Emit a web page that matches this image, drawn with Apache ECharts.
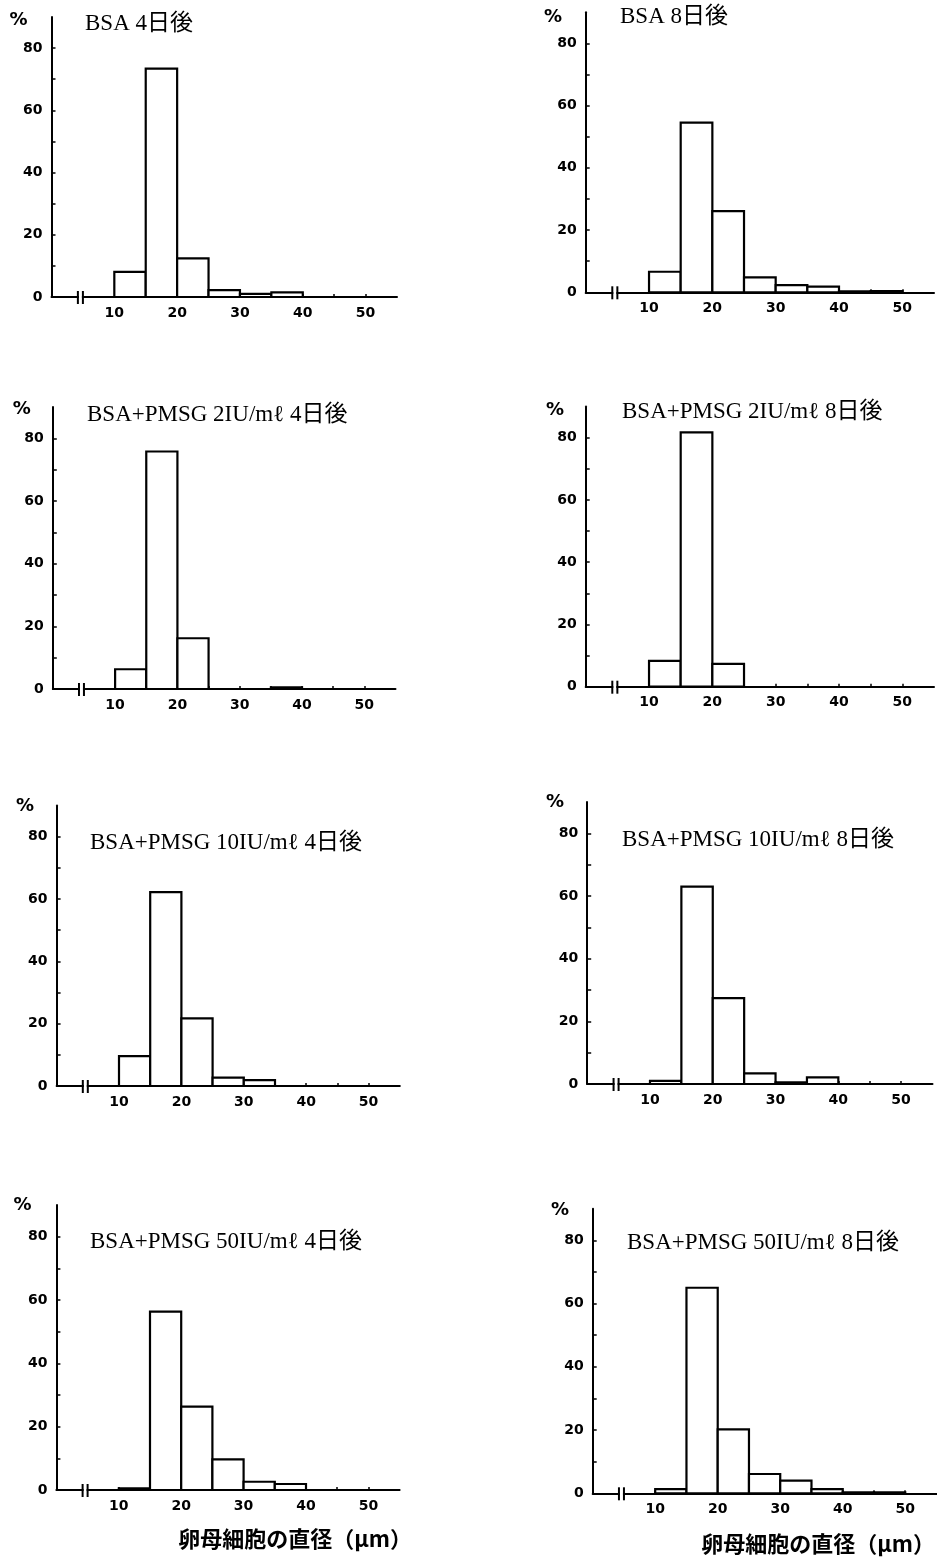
<!DOCTYPE html>
<html>
<head>
<meta charset="utf-8">
<script src="https://cdn.jsdelivr.net/npm/echarts@6/dist/echarts.min.js"></script>
<style>
html,body{margin:0;padding:0;background:#fff;}
#chart{width:937px;height:1559px;}
</style>
</head>
<body>
<div id="chart"></div>
<script>
// ---- data ----
const binStarts = [10, 15, 20, 25, 30, 35, 40, 45];
const binWidth = 5;
const xTickLabels = [10, 20, 30, 40, 50];
const yTickLabels = [0, 20, 40, 60, 80];
const panelTitles = [
  'BSA 4日後', 'BSA 8日後',
  'BSA+PMSG 2IU/mℓ 4日後', 'BSA+PMSG 2IU/mℓ 8日後',
  'BSA+PMSG 10IU/mℓ 4日後', 'BSA+PMSG 10IU/mℓ 8日後',
  'BSA+PMSG 50IU/mℓ 4日後', 'BSA+PMSG 50IU/mℓ 8日後'
];
const bsa4 = [8.1, 73.4, 12.4, 2.2, 1.0, 1.5, 0, 0];
const bsa8 = [6.6, 54.5, 26.1, 4.8, 2.3, 1.8, 0.3, 0.4];
const pmsg2_4 = [6.3, 75.8, 16.2, 0, 0, 0.5, 0, 0];
const pmsg2_8 = [8.3, 81.7, 7.3, 0, 0, 0, 0, 0];
const pmsg10_4 = [9.6, 62.2, 21.7, 2.7, 1.9, 0, 0, 0];
const pmsg10_8 = [1.0, 63.0, 27.4, 3.4, 0.5, 2.1, 0, 0];
const pmsg50_4 = [0.5, 56.3, 26.3, 9.7, 2.6, 1.9, 0, 0];
const pmsg50_8 = [1.3, 65.0, 20.2, 6.1, 4.0, 1.3, 0.3, 0.3];
const yUnit = '%';
const xAxisTitle = '卵母細胞の直径（μm）';
const breakRange = [4.2, 5.0];

const panelValues = [bsa4, bsa8, pmsg2_4, pmsg2_8, pmsg10_4, pmsg10_8, pmsg50_4, pmsg50_8];

// ---- layout (pixel geometry of each panel) ----
const frames = [
  {x0: 51.5, x55: 397,   y90: 16.9,  y0: 297,    tx: 85,  ty: 24,   px: 18.5, py: 20.5},
  {x0: 585.7, x55: 934,  y90: 12.2,  y0: 292.3,  tx: 620, ty: 17,   px: 553,  py: 17.5},
  {x0: 52.8, x55: 395.5, y90: 407,   y0: 689,    tx: 87,  ty: 415,  px: 21.7, py: 409},
  {x0: 585.7, x55: 934,  y90: 406.5, y0: 686.7,  tx: 622, ty: 412,  px: 555,  py: 410},
  {x0: 56.6, x55: 399.8, y90: 805.5, y0: 1086,   tx: 90,  ty: 843,  px: 25,   py: 806},
  {x0: 587.2, x55: 932.5,y90: 802,   y0: 1084,   tx: 622, ty: 840,  px: 555,  py: 802.5},
  {x0: 56.4, x55: 399.6, y90: 1205,  y0: 1490,   tx: 90,  ty: 1242, px: 22.5, py: 1205},
  {x0: 592.7, x55: 936.5,y90: 1208.7,y0: 1493.3, tx: 627, ty: 1243, px: 560,  py: 1210}
];
const xNamePos = [null, null, null, null, null, null, {x: 412, y: 1539}, {x: 935, y: 1544}];

const labelFont = {fontFamily: 'DejaVu Sans', fontWeight: 'bold', fontSize: 14, color: '#000'};

const grids = [], xAxes = [], yAxes = [], series = [], graphics = [];

frames.forEach((f, i) => {
  grids.push({left: f.x0, top: f.y90, width: f.x55 - f.x0, height: f.y0 - f.y90, containLabel: false});
  xAxes.push({
    type: 'value', gridIndex: i, min: 0, max: 55, interval: 5,
    axisLine: {show: true, lineStyle: {color: '#000', width: 2}},
    axisTick: {show: true, inside: true, length: 3, lineStyle: {color: '#000', width: 1.5},
               customValues: [10, 15, 20, 25, 30, 35, 40, 45, 50]},
    axisLabel: Object.assign({margin: 9, customValues: xTickLabels,
      formatter: v => (xTickLabels.indexOf(v) >= 0 ? String(v) : '')}, labelFont),
    splitLine: {show: false}
  });
  yAxes.push({
    type: 'value', gridIndex: i, min: 0, max: 90, interval: 10,
    axisLine: {show: true, lineStyle: {color: '#000', width: 2}},
    axisTick: {show: true, inside: true, length: 4, lineStyle: {color: '#000', width: 1.5},
               customValues: [10, 20, 30, 40, 50, 60, 70, 80]},
    axisLabel: Object.assign({margin: 9, customValues: yTickLabels,
      formatter: v => (yTickLabels.indexOf(v) >= 0 ? String(v) : '')}, labelFont),
    splitLine: {show: false}
  });
  series.push({
    type: 'custom', xAxisIndex: i, yAxisIndex: i, clip: false, z: 3,
    data: binStarts.map((s, k) => [s, s + binWidth, panelValues[i][k]]),
    encode: {x: [0, 1], y: 2},
    renderItem: function (params, api) {
      const v = api.value(2);
      if (!v) return null;
      const a = api.coord([api.value(0), 0]);
      const b = api.coord([api.value(1), v]);
      return {
        type: 'rect',
        shape: {x: a[0], y: b[1], width: b[0] - a[0], height: a[1] - b[1]},
        style: {fill: '#fff', stroke: '#000', lineWidth: 2.2}
      };
    }
  });
  series.push({
    type: 'custom', xAxisIndex: i, yAxisIndex: i, clip: false, z: 4,
    data: [[breakRange[0], breakRange[1], 0]],
    encode: {x: [0, 1], y: 2},
    renderItem: function (params, api) {
      const a = api.coord([api.value(0), 0]);
      const b = api.coord([api.value(1), 0]);
      return {
        type: 'group',
        children: [
          {type: 'rect', shape: {x: a[0] + 1, y: a[1] - 3, width: b[0] - a[0] - 2, height: 6}, style: {fill: '#fff'}},
          {type: 'line', shape: {x1: a[0], y1: a[1] - 6, x2: a[0], y2: a[1] + 7}, style: {stroke: '#000', lineWidth: 2}},
          {type: 'line', shape: {x1: b[0], y1: b[1] - 6, x2: b[0], y2: b[1] + 7}, style: {stroke: '#000', lineWidth: 2}}
        ]
      };
    }
  });
  graphics.push({
    type: 'text', x: f.tx, y: f.ty,
    style: {text: panelTitles[i], font: '23px "Liberation Serif", "Noto Sans CJK JP"',
            fill: '#000', textAlign: 'left', textVerticalAlign: 'middle'}
  });
  graphics.push({
    type: 'text', x: f.px, y: f.py,
    style: {text: yUnit, font: 'bold 18px "DejaVu Sans"', fill: '#000',
            textAlign: 'center', textVerticalAlign: 'middle'}
  });
  if (xNamePos[i]) {
    graphics.push({
      type: 'text', x: xNamePos[i].x, y: xNamePos[i].y,
      style: {text: xAxisTitle, font: 'bold 22px "Noto Sans CJK JP"', fill: '#000',
              textAlign: 'right', textVerticalAlign: 'middle'}
    });
  }
});

const chart = echarts.init(document.getElementById('chart'), null, {renderer: 'canvas'});
chart.setOption({
  animation: false,
  backgroundColor: '#fff',
  grid: grids,
  xAxis: xAxes,
  yAxis: yAxes,
  series: series,
  graphic: graphics
});
</script>
</body>
</html>
